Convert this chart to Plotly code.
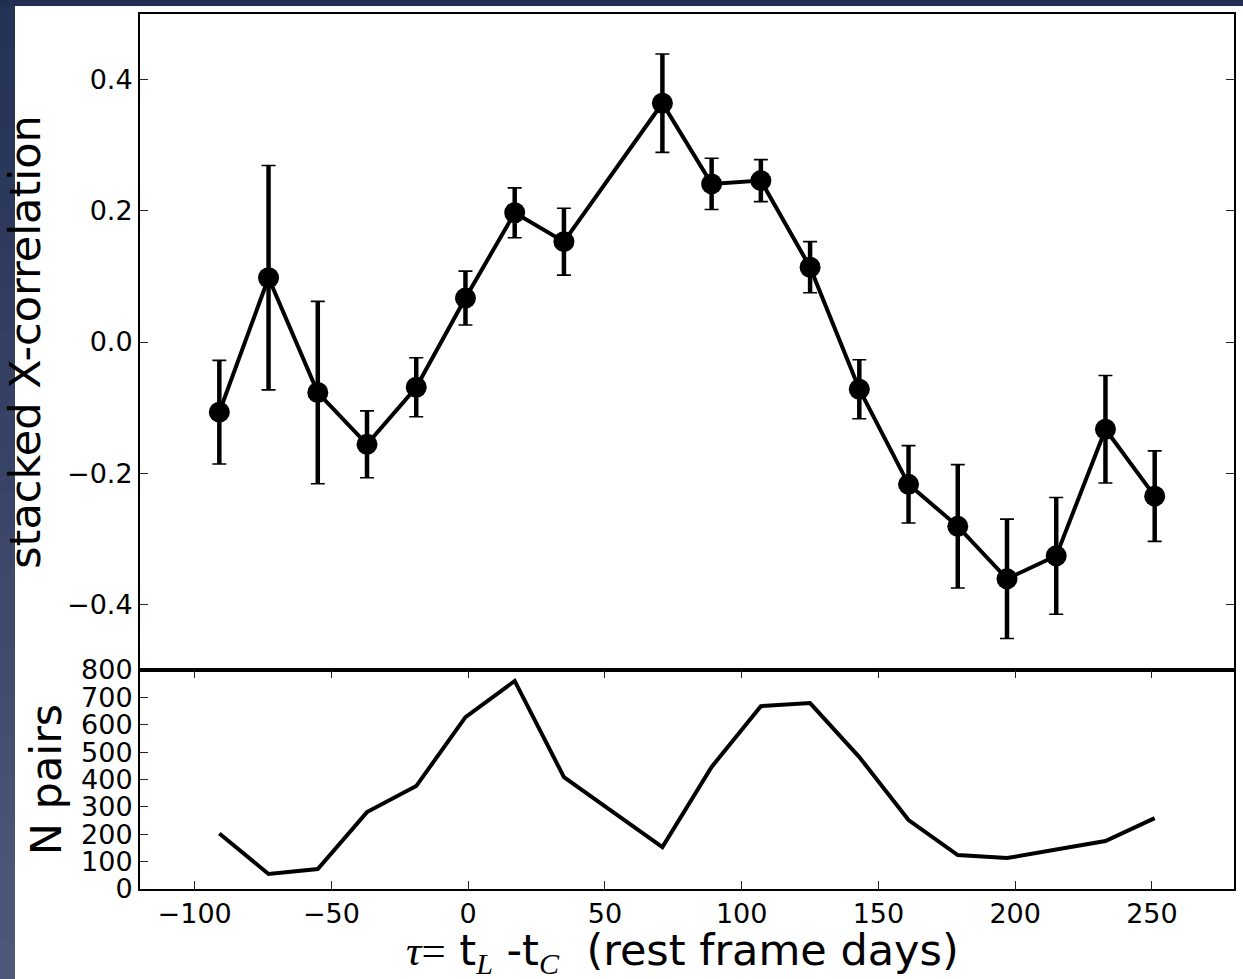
import plotly.graph_objects as go
from plotly.subplots import make_subplots

# ---------------- data ----------------
tau = [-91, -73, -55, -37, -19, -1, 17, 35, 71, 89, 107, 125, 143, 161, 179, 197, 215, 233, 251]
xcorr = [-0.107, 0.098, -0.077, -0.156, -0.069, 0.067, 0.197, 0.153, 0.364, 0.241,
         0.246, 0.114, -0.072, -0.217, -0.281, -0.361, -0.326, -0.133, -0.235]
xcorr_err = [0.079, 0.171, 0.139, 0.051, 0.045, 0.041, 0.038, 0.051, 0.075, 0.039,
             0.032, 0.039, 0.045, 0.059, 0.094, 0.091, 0.089, 0.082, 0.069]
npairs = [203, 55, 73, 281, 376, 628, 760, 409, 153, 446, 668, 679, 482, 252, 124, 113, 144, 175, 259]

x_ticks = [-100, -50, 0, 50, 100, 150, 200, 250]
top_y_ticks = [-0.4, -0.2, 0.0, 0.2, 0.4]
bot_y_ticks = [0, 100, 200, 300, 400, 500, 600, 700, 800]


def fmt_num(v, nd=0):
    s = f"{abs(v):.{nd}f}"
    return ("\u2212" + s) if v < 0 else s


# ---------------- geometry ----------------
W, H = 1243, 979
L, R, T, B = 140, 1234, 14, 889
ML, MR, MT, MB = L, W - R, T, H - B


def px(x):
    return (x - L) / (R - L)


def py(y):
    return (B - y) / (B - T)


split = py(670)

fig = make_subplots(rows=2, cols=1, shared_xaxes=True, vertical_spacing=0,
                    row_heights=[1 - split, split])

# caps of error bars (thin)
fig.add_trace(go.Scatter(
    x=tau, y=xcorr, mode="markers",
    marker=dict(size=1, color="rgba(0,0,0,0)"),
    error_y=dict(type="data", array=xcorr_err, visible=True, color="black",
                 thickness=1.6, width=7),
    showlegend=False, hoverinfo="skip"), row=1, col=1)

# stems + line + markers
fig.add_trace(go.Scatter(
    x=tau, y=xcorr, mode="lines+markers",
    line=dict(color="black", width=4),
    marker=dict(size=21, color="black"),
    error_y=dict(type="data", array=xcorr_err, visible=True, color="black",
                 thickness=4.5, width=0),
    showlegend=False), row=1, col=1)

fig.add_trace(go.Scatter(
    x=tau, y=npairs, mode="lines",
    line=dict(color="black", width=4),
    showlegend=False), row=2, col=1)

tick_font = dict(family="DejaVu Sans", size=27, color="black")
title_font = dict(family="DejaVu Sans", size=43, color="black")
axis_common = dict(showline=True, linecolor="black", linewidth=2,
                   showgrid=False, zeroline=False, tickfont=tick_font,
                   tickcolor="#222", tickwidth=1, ticklen=8, automargin=False)

fig.update_xaxes(range=[-120, 280], ticks="", showticklabels=False, mirror=True,
                 row=1, col=1, **axis_common)
fig.update_yaxes(range=[-0.5, 0.5], ticks="inside", mirror="ticks",
                 tickvals=top_y_ticks, ticktext=[fmt_num(v, 1) for v in top_y_ticks],
                 title=dict(text="stacked X-correlation", font=title_font, standoff=14),
                 row=1, col=1, **axis_common)

fig.update_xaxes(range=[-120, 280], ticks="inside", mirror="ticks",
                 tickvals=x_ticks, ticktext=[fmt_num(v) for v in x_ticks],
                 showticklabels=True,
                 row=2, col=1, **axis_common)
fig.update_yaxes(range=[0, 800], ticks="inside", mirror=True,
                 tickvals=bot_y_ticks, ticktext=[str(v) for v in bot_y_ticks],
                 title=dict(text="N pairs", font=title_font, standoff=6),
                 row=2, col=1, **axis_common)

xtitle = ('<span style="font-family:Liberation Serif"><i>\u03c4</i>=</span> t'
          '<sub><span style="font-family:Liberation Serif"><i>L</i></span></sub> -t'
          '<sub><span style="font-family:Liberation Serif"><i>C</i></span></sub>'
          '  (rest frame days)')
fig.add_annotation(text=xtitle, xref="paper", yref="paper",
                   x=px(682), y=py(953), xanchor="center", yanchor="middle",
                   showarrow=False, font=title_font)

# ---------------- slide-like background ----------------
shapes = []
shapes.append(dict(type="rect", xref="paper", yref="paper", layer="below",
                   x0=px(15), x1=px(W + 2), y0=py(H + 2), y1=py(6),
                   line=dict(width=0), fillcolor="white"))
n = 24
c0, c1 = (36, 50, 86), (78, 88, 122)
for i in range(n):
    t = i / (n - 1)
    col = tuple(int(round(a + (b - a) * t)) for a, b in zip(c0, c1))
    y0 = 6 + (H - 6) * i / n
    y1 = 6 + (H - 6) * (i + 1) / n
    shapes.append(dict(type="rect", xref="paper", yref="paper", layer="below",
                       x0=px(-2), x1=px(15), y0=py(y1 + 1), y1=py(y0),
                       line=dict(width=0), fillcolor=f"rgb{col}"))

fig.update_layout(
    width=W, height=H,
    margin=dict(l=ML, r=MR, t=MT, b=MB, pad=0, autoexpand=False),
    paper_bgcolor="rgb(33,46,82)",
    plot_bgcolor="white",
    font=dict(family="DejaVu Sans", color="black"),
    shapes=shapes,
    showlegend=False,
)

fig.write_html("out.html")
